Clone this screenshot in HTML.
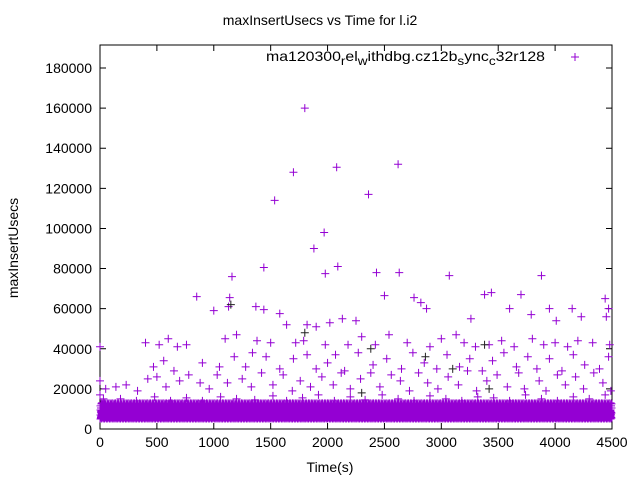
<!DOCTYPE html>
<html><head><meta charset="utf-8"><style>
body{margin:0;background:#fff}
svg{display:block;font-family:"Liberation Sans",sans-serif}
</style></head><body>
<svg id="chart" width="640" height="480" xmlns="http://www.w3.org/2000/svg">
<rect width="640" height="480" fill="#fff"/>
<text x="320" y="25" text-anchor="middle" font-size="14">maxInsertUsecs vs Time for l.i2</text>
<g id="axes"></g>
<g id="band"></g>
<g id="pts"></g>
<text x="266" y="61" font-size="14" textLength="279" lengthAdjust="spacingAndGlyphs">ma120300<tspan font-size="12" dy="4">r</tspan><tspan dy="-4">el</tspan><tspan font-size="12" dy="4">w</tspan><tspan dy="-4">ithdbg.cz12b</tspan><tspan font-size="12" dy="4">s</tspan><tspan dy="-4">ync</tspan><tspan font-size="12" dy="4">c</tspan><tspan dy="-4">32r128</tspan></text>
<path d="M571,57h8M575,53v8" stroke="#9400d3" stroke-width="1"/>
<text x="330" y="472" text-anchor="middle" font-size="14">Time(s)</text>
<text transform="translate(18,248) rotate(-90)" text-anchor="middle" font-size="14">maxInsertUsecs</text>
</svg>
<script>
const xTicks=[0,500,1000,1500,2000,2500,3000,3500,4000,4500];
const yTicks=[0,20000,40000,60000,80000,100000,120000,140000,160000,180000];
const outT=[1535,1700,1800,1880,1970,2080,2090,1980,2360,2430,2630,2620,1440,1160,850,1140,2500,2760,3070,3380,3440,3700,3880,4440,4470,4150,4010,1000,1130,1370,1440,1580,1640,1820,1900,2020,2130,2250,2820,2870,3260,3600,3790,3950,4230,4450,
0,400,520,600,680,760,1100,1200,1380,1500,1720,1790,1980,2180,2300,2420,2540,2700,2900,3000,3130,3200,3300,3420,3530,3640,3800,3900,4000,4110,4200,4330,4480,
470,560,650,900,1050,1180,1280,1340,1460,1580,1700,1820,1900,2000,2070,2150,2270,2400,2520,2650,2750,2850,2960,3050,3160,3250,3360,3450,3550,3660,3760,3840,3950,4060,4160,4260,4390,4470,
0,0,50,140,230,330,420,500,580,700,780,880,960,1030,1120,1250,1330,1420,1520,1610,1690,1760,1850,1950,2050,2120,2200,2290,2380,2460,2560,2640,2720,2800,2880,2970,3060,3150,3230,3310,3400,3490,3580,3680,3730,3860,3920,4020,4090,4180,4250,4340,4420,4490,
30,180,320,480,620,760,900,1060,1200,1360,1520,1640,1780,1920,2060,2200,2330,2480,2620,2760,2900,3040,3180,3320,3460,3600,3740,3880,4020,4160,4300,4440];
const outV=[114000,128000,160000,90000,98000,130500,81000,77500,117000,78000,78000,132000,80500,76000,66000,65500,66500,65500,76500,67000,68000,67000,76500,65000,60000,60000,54000,59000,61000,61000,59500,57500,52000,52000,51000,53000,55000,54000,63000,60000,55000,60000,57000,60000,56000,56000,
41000,43000,42000,45000,41000,42000,45000,47000,44000,43000,43000,44000,42000,42000,46000,42000,47000,43000,41000,45000,47000,43000,41000,42000,44000,41000,45000,42000,43000,41000,44000,43000,42000,
31000,34000,29000,33000,31000,36000,31000,38000,36000,30000,35000,37000,30000,33000,37000,29000,38000,32000,35000,30000,38000,33000,30000,37000,31000,35000,29000,34000,38000,31000,36000,30000,35000,29000,37000,32000,30000,36000,
24000,17000,20000,21000,22000,19000,25000,26000,21000,24000,27000,23000,20000,27000,23000,25000,21000,28000,22000,27000,19000,24000,21000,26000,22000,28000,20000,25000,28000,21000,27000,24000,19000,28000,23000,20000,26000,22000,29000,19000,24000,27000,21000,28000,20000,24000,19000,27000,22000,26000,20000,28000,23000,19000,
15000,15000,14000,16000,14000,15500,14000,16000,15000,14500,16500,14000,15500,17000,14000,16000,14500,17000,15000,14000,16500,15000,14000,16000,15500,14000,17000,15000,14000,16000,15000,17000];
const blackT=[1150,2380,3380,3100,3420,2860,1800,2300];
const blackV=[62000,40000,42000,30000,20000,36000,48000,18000];
const bandLevels=[5000,9500,7000,11500,6000,8500,10500,5500,8000,12500,6500,9000,7500,13000];
const bandStep=4;
const X0=100,X1=612,Y0=429,Y1=68;
const sx=t=>X0+(t/4500)*(X1-X0);
const sy=v=>Y0-(v/180000)*(Y0-Y1);
const NS="http://www.w3.org/2000/svg";
const ax=document.getElementById('axes');
function mk(tag,attrs,parent){const e=document.createElementNS(NS,tag);for(const k in attrs)e.setAttribute(k,attrs[k]);parent.appendChild(e);return e;}
const frame=mk('rect',{x:X0,y:45,width:X1-X0,height:Y0-45,fill:'none',stroke:'#000','stroke-width':1},ax);


xTicks.forEach(t=>{const x=sx(t);
 const l=mk('path',{d:`M${x},${Y0}v-6M${x},45v6`,stroke:'#000'},ax);
 
 
 const tx=mk('text',{x:x,y:Y0+18,'text-anchor':'middle','font-size':14},ax);tx.textContent=t;
 
 });
yTicks.forEach(v=>{const y=sy(v);
 const l=mk('path',{d:`M${X0},${y}h6M${X1},${y}h-6`,stroke:'#000'},ax);
 
 
 const tx=mk('text',{x:X0-8,y:y+5,'text-anchor':'end','font-size':14},ax);tx.textContent=v;
 
 });
const band=document.getElementById('band');
let d='',k=0;
for(let t=0;t<=4500;t+=bandStep){for(let j=0;j<4;j++){const v=bandLevels[(k++)%bandLevels.length];const x=sx(t),y=sy(v);d+=`M${x-3.5},${y}h7M${x},${y-3.5}v7`;}}
const bp=mk('path',{d:d,stroke:'#9400d3','stroke-width':1,fill:'none'},band);


const pts=document.getElementById('pts');
outT.forEach((t,i)=>{const x=sx(t),y=sy(outV[i]);
 const p=mk('path',{d:`M${x-4},${y}h8M${x},${y-4}v8`,stroke:'#9400d3','stroke-width':1},pts);
 
 });
blackT.forEach((t,i)=>{const x=sx(t),y=sy(blackV[i]);
 const p=mk('path',{d:`M${x-4},${y}h8M${x},${y-4}v8`,stroke:'#222','stroke-width':1},pts);
 
 });
</script>
</body></html>
